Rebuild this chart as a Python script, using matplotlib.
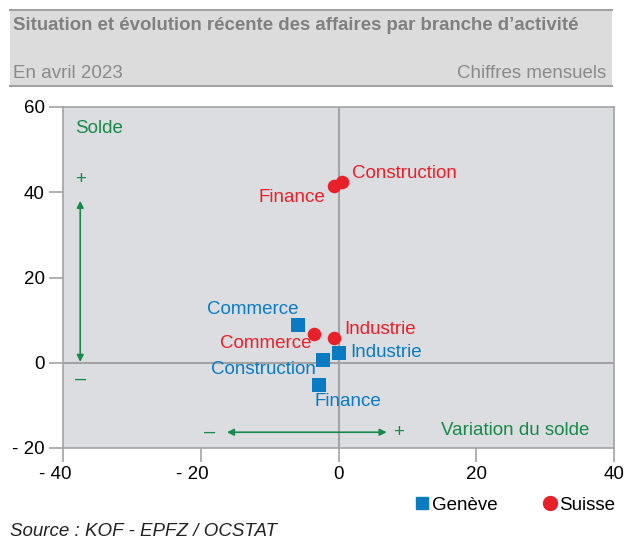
import matplotlib.pyplot as plt
from matplotlib.patches import Rectangle
from matplotlib.transforms import ScaledTranslation

plt.rcParams['font.family'] = ['Liberation Sans', 'DejaVu Sans']

# donnees
branches = ['Commerce', 'Construction', 'Finance', 'Industrie']
geneve_var = [-5.9, -2.3, -2.9, 0.1]
geneve_solde = [8.9, 0.7, -5.2, 2.4]
suisse_var = [-3.6, 0.5, -0.7, -0.7]
suisse_solde = [6.8, 42.5, 41.4, 5.9]

xticks = [-40, -20, 0, 20, 40]
yticks = [-20, 0, 20, 40, 60]

def fmt(v):
    return f"- {abs(v)}" if v < 0 else str(v)

bleu = '#0a7bc2'
rouge = '#e8202a'
vert = '#17894a'
fond = '#dcdde0'
gris = '#a3a3a3'
fs = 13.5

fig = plt.figure(figsize=(6.25, 5.4), dpi=100)

# bandeau du titre
W, H = 625, 540
fig.patches.append(Rectangle((10 / W, 1 - 86 / H), 602 / W, 76 / H,
                             transform=fig.transFigure, facecolor='#dcdcdd',
                             edgecolor='none', zorder=0))
for yy in [10, 86]:
    fig.add_artist(plt.Line2D([10 / W, 612 / W], [1 - yy / H, 1 - yy / H],
                              transform=fig.transFigure, color=gris, lw=1.5))
fig.text(13 / W, 1 - 26 / H, "Situation et évolution récente des affaires par branche d\u2019activité",
         fontsize=13.45, fontweight='bold', color='#808080', va='center')
fig.text(13 / W, 1 - 73 / H, "En avril 2023", fontsize=fs, color='#8a8a8a', va='center')
fig.text(606 / W, 1 - 73 / H, "Chiffres mensuels", fontsize=fs, color='#8a8a8a',
         va='center', ha='right')

ax = fig.add_axes([63 / W, 1 - 448 / H, 551 / W, 341 / H])
ax.set_facecolor(fond)
ax.set_xlim(-40, 40)
ax.set_ylim(-20, 60)
ax.set_xticks(xticks)
ax.set_yticks(yticks)
ax.set_xticklabels([fmt(v) for v in xticks])
ax.set_yticklabels([fmt(v) for v in yticks])
ax.tick_params(length=10, width=1.2, color=gris, labelsize=fs, pad=3)
# les etiquettes negatives sont decalees a gauche
for v, lab in zip(xticks, ax.get_xticklabels()):
    if v < 0:
        lab.set_transform(lab.get_transform() + ScaledTranslation(-8 / 100, 0, fig.dpi_scale_trans))
for s in ax.spines.values():
    s.set_color(gris)
    s.set_linewidth(1.2)
ax.axhline(0, color=gris, lw=1.5, zorder=1)
ax.axvline(0, color=gris, lw=1.5, zorder=1)

# fleches
ax.annotate('', xy=(-37.5, 38), xytext=(-37.5, 0.2),
            arrowprops=dict(arrowstyle='<|-|>', color=vert, lw=1.2,
                            mutation_scale=10, shrinkA=0, shrinkB=0))
ax.annotate('', xy=(7, -16.3), xytext=(-16.2, -16.3),
            arrowprops=dict(arrowstyle='<|-|>', color=vert, lw=1.2,
                            mutation_scale=10, shrinkA=0, shrinkB=0))
ax.text(-38.3, 55, "Solde", color=vert, fontsize=fs, va='center')
ax.text(-37.5, 43, "+", color=vert, fontsize=fs, va='center', ha='center')
ax.text(-37.5, -3.8, "\u2013", color=vert, fontsize=fs + 1, va='center', ha='center')
ax.text(-18.7, -16.3, "\u2013", color=vert, fontsize=fs + 1, va='center', ha='center')
ax.text(8.7, -16.3, "+", color=vert, fontsize=fs, va='center', ha='center')
ax.text(36.4, -15.8, "Variation du solde", color=vert, fontsize=fs, va='center', ha='right')

ax.scatter(geneve_var, geneve_solde, marker='s', s=100, color=bleu, zorder=3, linewidths=0)
ax.scatter(suisse_var, suisse_solde, marker='o', s=95, color=rouge, zorder=3, linewidths=0)

off_geneve = {'Commerce': (1, 15, 'right'), 'Construction': (-7, -10, 'right'),
              'Finance': (-4, -17, 'left'), 'Industrie': (11, 0, 'left')}
off_suisse = {'Commerce': (-2, -10, 'right'), 'Construction': (10, 8, 'left'),
              'Finance': (-8, -11, 'right'), 'Industrie': (11, 8, 'left')}
for i, b in enumerate(branches):
    dx, dy, ha = off_geneve[b]
    ax.annotate(b, (geneve_var[i], geneve_solde[i]), xytext=(dx, dy),
                textcoords='offset pixels', ha=ha, va='center', color=bleu, fontsize=fs)
    dx, dy, ha = off_suisse[b]
    ax.annotate(b, (suisse_var[i], suisse_solde[i]), xytext=(dx, dy),
                textcoords='offset pixels', ha=ha, va='center', color=rouge, fontsize=fs)

# legende
leg = fig.legend(handles=[
    plt.Line2D([], [], marker='s', ls='', color=bleu, markersize=9, label='Genève'),
    plt.Line2D([], [], marker='o', ls='', color=rouge, markersize=10, label='Suisse')],
    loc='center right', bbox_to_anchor=(632 / W, 1 - 505 / H), ncol=2, frameon=False,
    fontsize=fs, handletextpad=0.0, columnspacing=2.3, handlelength=1.0)

fig.text(10 / W, 1 - 532 / H, "Source : KOF - EPFZ / OCSTAT", fontsize=fs,
         style='italic', color='#222222', va='center')

fig.savefig('out.png', dpi=100)
